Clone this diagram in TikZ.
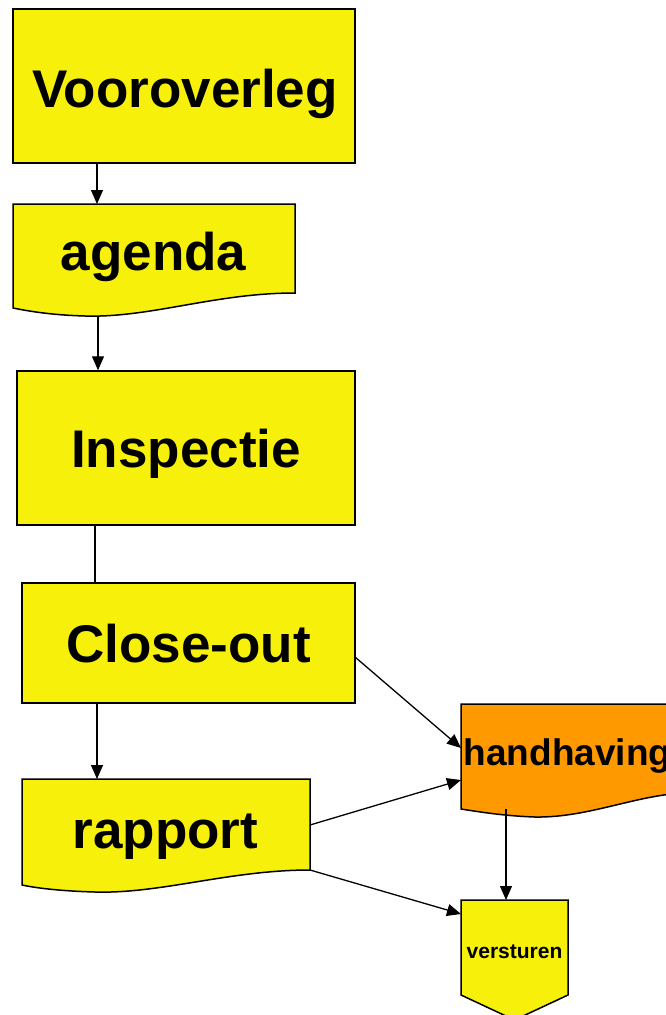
\documentclass[tikz,border=0pt]{standalone}
\usepackage{fontspec}
\setmainfont{Liberation Sans}
\usetikzlibrary{arrows.meta}

\definecolor{flowyellow}{RGB}{247,240,10}
\definecolor{floworange}{RGB}{255,153,0}

\begin{document}
\begin{tikzpicture}[x=1pt, y=-1pt, line width=1.5pt,
  box/.style={draw, fill=flowyellow, inner sep=0pt},
  big/.style={font=\fontsize{53}{60}\selectfont\bfseries, text height=38pt, text depth=0pt},
  flow/.style={-{Triangle[length=14pt,width=12pt]}, line width=1.3pt}]
  \useasboundingbox (0,0) rectangle (666,1015);
  \clip (0,0) rectangle (666,1015);

  % Boxes
  \node[box, minimum width=342pt, minimum height=154pt] (voor)  at (184,86) {};
  \node[big, anchor=base] (voor-text) at (185,107) {Vooroverleg};
  \node[box, big, minimum width=338pt, minimum height=154pt] (insp)  at (186,448)   {Inspectie};
  \node[box, big, minimum width=333pt, minimum height=120pt] (close) at (188.5,643) {Close-out};

  % Documents
  \draw[fill=flowyellow] (13,204) -- (295,204) -- (295,293)
    .. controls (215,293) and (150,318) .. (85,316)
    .. controls (50,315) and (28,311) .. (13,308) -- cycle;
  \node[big, anchor=base] (agenda) at (153.5,270) {agenda};

  \draw[fill=flowyellow] (22,779) -- (310,779) -- (310,870)
    .. controls (230,870) and (160,894) .. (95,892)
    .. controls (60,891) and (36,888) .. (22,885) -- cycle;
  \node[big, anchor=base] (rapport) at (165.5,848) {rapport};

  \draw[fill=floworange] (461,704) -- (690,704) -- (690,793)
    .. controls (640,793) and (590,818) .. (535,817)
    .. controls (505,816) and (480,812) .. (461,809) -- cycle;
  \node[font=\fontsize{37}{44}\selectfont\bfseries, anchor=base west, inner sep=0pt] (hand) at (463,765) {handhaving};

  % Off-page connector
  \draw[fill=flowyellow] (461,900) -- (568,900) -- (568,995) -- (514.5,1020) -- (461,995) -- cycle;
  \node[font=\fontsize{21}{25}\selectfont\bfseries, anchor=base] (vers) at (514.5,958) {versturen};

  % Connector ends
  \coordinate (agenda-top) at (97,204);
  \coordinate (agenda-bot) at (98,316);
  \coordinate (insp-link)  at (95,527);
  \coordinate (rapport-top) at (97,779);
  \coordinate (close-r)   at (355,657);
  \coordinate (rapport-r1) at (310,825);
  \coordinate (rapport-r2) at (310,870);
  \coordinate (hand-l1)   at (461,748);
  \coordinate (hand-l2)   at (461,780);
  \coordinate (hand-bot)  at (506,809);
  \coordinate (vers-top)  at (506,900);
  \coordinate (vers-l)    at (461,914);

  % Connectors
  \draw[flow] (voor.south -| agenda-top) -- (agenda-top);
  \draw[flow] (agenda-bot) -- (agenda-bot |- insp.north);
  \draw[line width=1.3pt] (insp.south -| insp-link) -- (close.north -| insp-link);
  \draw[flow] (close.south -| rapport-top) -- (rapport-top);
  \draw[flow] (close-r) -- (hand-l1);
  \draw[flow] (rapport-r1) -- (hand-l2);
  \draw[flow] (rapport-r2) -- (vers-l);
  \draw[flow] (hand-bot) -- (vers-top);
\end{tikzpicture}
\end{document}
